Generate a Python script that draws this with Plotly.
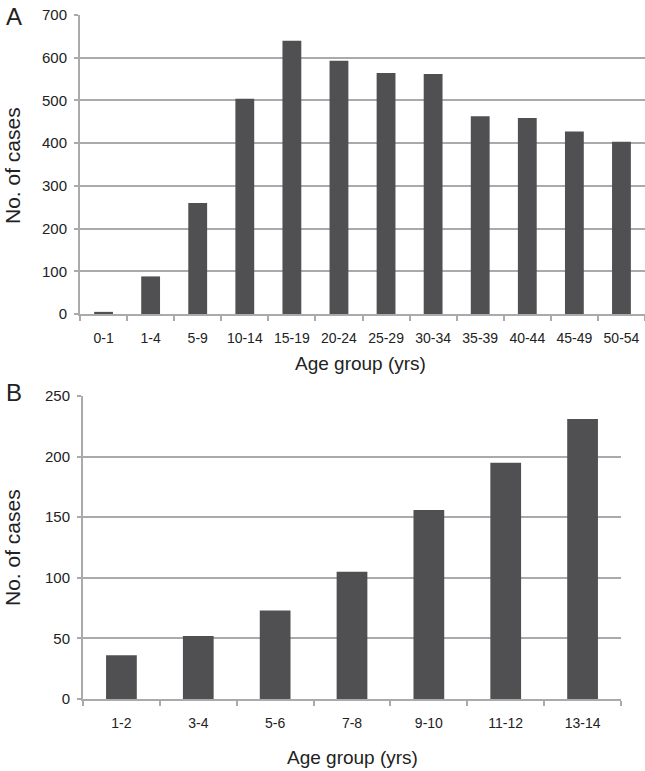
import plotly.graph_objects as go

# Panel A: cases by age group
age_groups_a = ["0-1", "1-4", "5-9", "10-14", "15-19", "20-24", "25-29",
                "30-34", "35-39", "40-44", "45-49", "50-54"]
cases_a = [5, 88, 260, 504, 640, 593, 564, 562, 463, 459, 427, 403]

# Panel B: cases by age group (children)
age_groups_b = ["1-2", "3-4", "5-6", "7-8", "9-10", "11-12", "13-14"]
cases_b = [36, 52, 73, 105, 156, 195, 231]

W, H = 645, 771
BAR = "#505053"
GRID = "#aaaaaa"
FONT = "Liberation Sans, Arial, sans-serif"


def px_x(v):
    return v / W


def px_y(v):
    return 1 - v / H


fig = go.Figure()
fig.add_bar(x=age_groups_a, y=cases_a, marker=dict(color=BAR, line=dict(width=0)),
            xaxis="x", yaxis="y", showlegend=False)
fig.add_bar(x=age_groups_b, y=cases_b, marker=dict(color=BAR, line=dict(width=0)),
            xaxis="x2", yaxis="y2", showlegend=False)

xcommon = dict(
    type="category", showgrid=False, showline=True, linecolor=GRID, linewidth=2,
    ticks="outside", tickson="boundaries", ticklen=5, tickwidth=2, tickcolor=GRID,
    tickfont=dict(size=14, color="#222"), ticklabelstandoff=10,
    fixedrange=True, automargin=False,
)
ycommon = dict(
    showgrid=True, gridcolor=GRID, gridwidth=2, showline=True, linecolor=GRID,
    linewidth=2, ticks="outside", ticklen=4, tickwidth=2, tickcolor=GRID,
    tickfont=dict(size=15, color="#222"), ticklabelstandoff=4,
    zeroline=False, fixedrange=True, automargin=False,
)

fig.update_layout(
    width=W, height=H,
    margin=dict(l=0, r=0, t=0, b=0),
    paper_bgcolor="white", plot_bgcolor="white",
    font=dict(family=FONT, color="#222"),
    bargap=0.6,
    xaxis=dict(xcommon, domain=[px_x(80), px_x(645)], anchor="y"),
    yaxis=dict(ycommon, domain=[px_y(314), px_y(15)], range=[0, 700], dtick=100,
               anchor="x"),
    xaxis2=dict(xcommon, domain=[px_x(83), px_x(621)], anchor="y2"),
    yaxis2=dict(ycommon, domain=[px_y(699), px_y(396)], range=[0, 250], dtick=50,
                anchor="x2"),
)

annots = [
    dict(text="A", x=px_x(14), y=px_y(16), size=24),
    dict(text="B", x=px_x(14), y=px_y(392), size=24),
    dict(text="Age group (yrs)", x=px_x(360), y=px_y(363), size=19),
    dict(text="Age group (yrs)", x=px_x(352), y=px_y(757), size=19),
]
for a in annots:
    fig.add_annotation(
        text=a["text"], x=a["x"], y=a["y"], xref="paper", yref="paper",
        showarrow=False, font=dict(size=a["size"], color="#222", family=FONT),
        xanchor="center", yanchor="middle",
    )
for yc in (166, 548):
    fig.add_annotation(
        text="No. of cases", x=px_x(12), y=px_y(yc), xref="paper", yref="paper",
        showarrow=False, textangle=-90, font=dict(size=21, color="#222", family=FONT),
        xanchor="center", yanchor="middle",
    )

fig.write_html(
    "out.html",
    config={"displayModeBar": False},
    post_script="document.body.style.margin='0';",
)
